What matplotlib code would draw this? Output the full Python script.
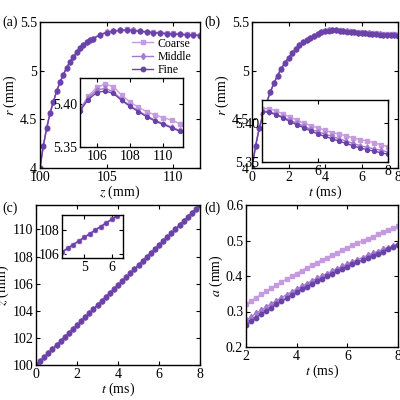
import numpy as np
import matplotlib.pyplot as plt

plt.rcParams['font.family'] = ['Liberation Serif', 'DejaVu Serif']
plt.rcParams['mathtext.fontset'] = 'stix'
plt.rcParams['font.size'] = 10

COLORS = {"Coarse": "#c59ae0", "Middle": "#a47ad0", "Fine": "#6a43a8"}
MARKERS = {"Coarse": "s", "Middle": "d", "Fine": "o"}

# panel (a): r vs z
z_a = [100, 100.25, 100.5, 100.75, 101, 101.25, 101.5, 101.75, 102, 102.25, 102.5, 102.75,
       103, 103.25, 103.5, 103.75, 104, 104.5, 105, 105.5, 106, 106.5, 107, 107.5, 108,
       108.5, 109, 109.5, 110, 110.5, 111, 111.5, 112]
r_a_fine = [4.00, 4.23, 4.41, 4.56, 4.68, 4.79, 4.88, 4.96, 5.03, 5.09, 5.14, 5.19, 5.23, 5.26,
            5.29, 5.31, 5.33, 5.37, 5.392, 5.405, 5.413, 5.415, 5.412, 5.404, 5.397, 5.391,
            5.385, 5.380, 5.376, 5.372, 5.368, 5.364, 5.361]
r_a_middle = [4.00, 4.23, 4.41, 4.56, 4.68, 4.79, 4.88, 4.96, 5.03, 5.09, 5.14, 5.19, 5.23, 5.26,
              5.29, 5.31, 5.33, 5.37, 5.393, 5.407, 5.416, 5.418, 5.414, 5.405, 5.398, 5.392,
              5.386, 5.381, 5.377, 5.373, 5.369, 5.366, 5.363]
r_a_coarse = [4.00, 4.23, 4.41, 4.56, 4.68, 4.79, 4.88, 4.96, 5.03, 5.09, 5.14, 5.19, 5.23, 5.26,
              5.29, 5.31, 5.33, 5.37, 5.394, 5.409, 5.419, 5.423, 5.420, 5.410, 5.402, 5.396,
              5.391, 5.387, 5.384, 5.381, 5.377, 5.373, 5.370]

# panel (b): r vs t
t_b = [0.0, 0.2, 0.4, 0.6, 0.8, 1.0, 1.2, 1.4, 1.6, 1.8, 2.0, 2.2, 2.4, 2.6, 2.8, 3.0, 3.2, 3.4,
       3.6, 3.8, 4.0, 4.2, 4.4, 4.6, 4.8, 5.0, 5.2, 5.4, 5.6, 5.8, 6.0, 6.2, 6.4, 6.6, 6.8, 7.0,
       7.2, 7.4, 7.6, 7.8, 8.0]
r_b_fine = [4.00, 4.23, 4.41, 4.55, 4.67, 4.78, 4.87, 4.95, 5.02, 5.08, 5.13, 5.18, 5.22, 5.26,
            5.29, 5.32, 5.34, 5.36, 5.38, 5.395, 5.405, 5.412, 5.415, 5.414, 5.411, 5.407,
            5.402, 5.398, 5.394, 5.390, 5.386, 5.383, 5.380, 5.377, 5.374, 5.371, 5.368,
            5.366, 5.364, 5.362, 5.360]
r_b_middle = [4.00, 4.23, 4.41, 4.55, 4.67, 4.78, 4.87, 4.95, 5.02, 5.08, 5.13, 5.18, 5.22, 5.26,
              5.29, 5.32, 5.34, 5.36, 5.38, 5.395, 5.406, 5.413, 5.416, 5.415, 5.412, 5.408,
              5.404, 5.400, 5.396, 5.392, 5.389, 5.386, 5.383, 5.380, 5.377, 5.374, 5.371,
              5.369, 5.367, 5.365, 5.363]
r_b_coarse = [4.00, 4.23, 4.41, 4.55, 4.67, 4.78, 4.87, 4.95, 5.02, 5.08, 5.13, 5.18, 5.22, 5.26,
              5.29, 5.32, 5.34, 5.36, 5.38, 5.396, 5.408, 5.415, 5.419, 5.419, 5.416, 5.412,
              5.408, 5.404, 5.400, 5.397, 5.394, 5.391, 5.388, 5.386, 5.384, 5.381, 5.379,
              5.377, 5.375, 5.372, 5.370]

# panel (c): z vs t
z_c_fine = [100.0, 100.29, 100.58, 100.88, 101.17, 101.47, 101.76, 102.06, 102.35, 102.65,
            102.94, 103.24, 103.53, 103.83, 104.12, 104.42, 104.71, 105.01, 105.30, 105.60,
            105.89, 106.19, 106.48, 106.78, 107.07, 107.37, 107.66, 107.96, 108.25, 108.55,
            108.84, 109.14, 109.43, 109.73, 110.02, 110.32, 110.61, 110.91, 111.20, 111.50, 111.79]
z_c_middle = z_c_fine
z_c_coarse = z_c_fine

# panel (d): a vs t
t_d = [2.0, 2.2, 2.4, 2.6, 2.8, 3.0, 3.2, 3.4, 3.6, 3.8, 4.0, 4.2, 4.4, 4.6, 4.8, 5.0, 5.2, 5.4,
       5.6, 5.8, 6.0, 6.2, 6.4, 6.6, 6.8, 7.0, 7.2, 7.4, 7.6, 7.8, 8.0]
a_coarse = [0.320, 0.330, 0.339, 0.348, 0.357, 0.366, 0.374, 0.383, 0.391, 0.399, 0.407, 0.415,
            0.423, 0.430, 0.438, 0.445, 0.452, 0.459, 0.466, 0.473, 0.480, 0.486, 0.493, 0.499,
            0.505, 0.511, 0.517, 0.523, 0.529, 0.535, 0.541]
a_middle = [0.275, 0.285, 0.295, 0.304, 0.313, 0.322, 0.330, 0.339, 0.347, 0.355, 0.363, 0.371,
            0.378, 0.386, 0.393, 0.400, 0.407, 0.414, 0.421, 0.427, 0.434, 0.440, 0.446, 0.452,
            0.458, 0.464, 0.469, 0.475, 0.480, 0.485, 0.490]
a_fine = [0.262, 0.273, 0.283, 0.293, 0.302, 0.311, 0.320, 0.329, 0.337, 0.346, 0.354, 0.362,
          0.370, 0.377, 0.385, 0.392, 0.399, 0.406, 0.413, 0.420, 0.426, 0.433, 0.439, 0.445,
          0.451, 0.457, 0.463, 0.469, 0.475, 0.481, 0.487]


def draw(ax, x, series, ms=3.2, lw=1.0):
    for name in ["Coarse", "Middle", "Fine"]:
        ax.plot(x, series[name], color=COLORS[name], marker=MARKERS[name], ms=ms, lw=lw,
                label=name)


def style(ax):
    ax.tick_params(direction='in', top=True, right=True, length=3, pad=2)
    for s in ax.spines.values():
        s.set_linewidth(1.0)


fig = plt.figure(figsize=(4, 4), dpi=100)

# (a)
ax = fig.add_axes([0.10, 0.58, 0.40, 0.365])
draw(ax, z_a, {"Coarse": r_a_coarse, "Middle": r_a_middle, "Fine": r_a_fine})
ax.set_xlim(100, 112); ax.set_ylim(4, 5.5)
ax.set_xticks([100, 105, 110]); ax.set_yticks([4, 4.5, 5, 5.5])
ax.set_yticklabels(["4", "4.5", "5", "5.5"])
ax.set_xlabel("$z$ (mm)", labelpad=0); ax.set_ylabel("$r$ (mm)", labelpad=1)
ax.legend(loc='upper right', bbox_to_anchor=(1.0, 0.95), frameon=False, fontsize=8.5,
          handlelength=1.8, labelspacing=0.1, borderpad=0.2, handletextpad=0.4)
style(ax)
fig.text(0.005, 0.935, "(a)", fontsize=10)
ins = fig.add_axes([0.20, 0.633, 0.258, 0.172])
draw(ins, z_a, {"Coarse": r_a_coarse, "Middle": r_a_middle, "Fine": r_a_fine}, ms=2.8)
ins.set_xlim(105, 111.2); ins.set_ylim(5.35, 5.43)
ins.set_xticks([106, 108, 110]); ins.set_yticks([5.35, 5.4])
style(ins)

# (b)
ax = fig.add_axes([0.63, 0.58, 0.365, 0.365])
draw(ax, t_b, {"Coarse": r_b_coarse, "Middle": r_b_middle, "Fine": r_b_fine})
ax.set_xlim(0, 8); ax.set_ylim(4, 5.5)
ax.set_xticks([0, 2, 4, 6, 8]); ax.set_yticks([4, 4.5, 5, 5.5])
ax.set_yticklabels(["4", "4.5", "5", "5.5"])
ax.set_xlabel("$t$ (ms)", labelpad=0); ax.set_ylabel("$r$ (mm)", labelpad=1)
style(ax)
fig.text(0.51, 0.935, "(b)", fontsize=10)
ins = fig.add_axes([0.655, 0.595, 0.315, 0.155])
draw(ins, t_b, {"Coarse": r_b_coarse, "Middle": r_b_middle, "Fine": r_b_fine}, ms=2.8)
ins.set_xlim(4.4, 8); ins.set_ylim(5.35, 5.43)
ins.set_xticks([6, 8]); ins.set_yticks([5.35, 5.4])
style(ins)

# (c)
ax = fig.add_axes([0.09, 0.0875, 0.41, 0.40])
draw(ax, t_b, {"Coarse": z_c_coarse, "Middle": z_c_middle, "Fine": z_c_fine})
ax.set_xlim(0, 8); ax.set_ylim(100, 111.8)
ax.set_xticks([0, 2, 4, 6, 8]); ax.set_yticks([100, 102, 104, 106, 108, 110])
ax.set_xlabel("$t$ (ms)", labelpad=0); ax.set_ylabel("$z$ (mm)", labelpad=1)
style(ax)
fig.text(0.005, 0.47, "(c)", fontsize=10)
ins = fig.add_axes([0.155, 0.355, 0.152, 0.108])
draw(ins, t_b, {"Coarse": z_c_coarse, "Middle": z_c_middle, "Fine": z_c_fine}, ms=2.3)
ins.set_xlim(4.2, 6.4); ins.set_ylim(105.7, 109.2)
ins.set_xticks([5, 6]); ins.set_yticks([106, 108])
style(ins)

# (d)
ax = fig.add_axes([0.615, 0.1325, 0.38, 0.355])
draw(ax, t_d, {"Coarse": a_coarse, "Middle": a_middle, "Fine": a_fine})
ax.set_xlim(2, 8); ax.set_ylim(0.2, 0.6)
ax.set_xticks([2, 4, 6, 8]); ax.set_yticks([0.2, 0.3, 0.4, 0.5, 0.6])
ax.set_xlabel("$t$ (ms)", labelpad=0); ax.set_ylabel("$a$ (mm)", labelpad=1)
style(ax)
fig.text(0.51, 0.47, "(d)", fontsize=10)

fig.savefig("out.png", dpi=100)
